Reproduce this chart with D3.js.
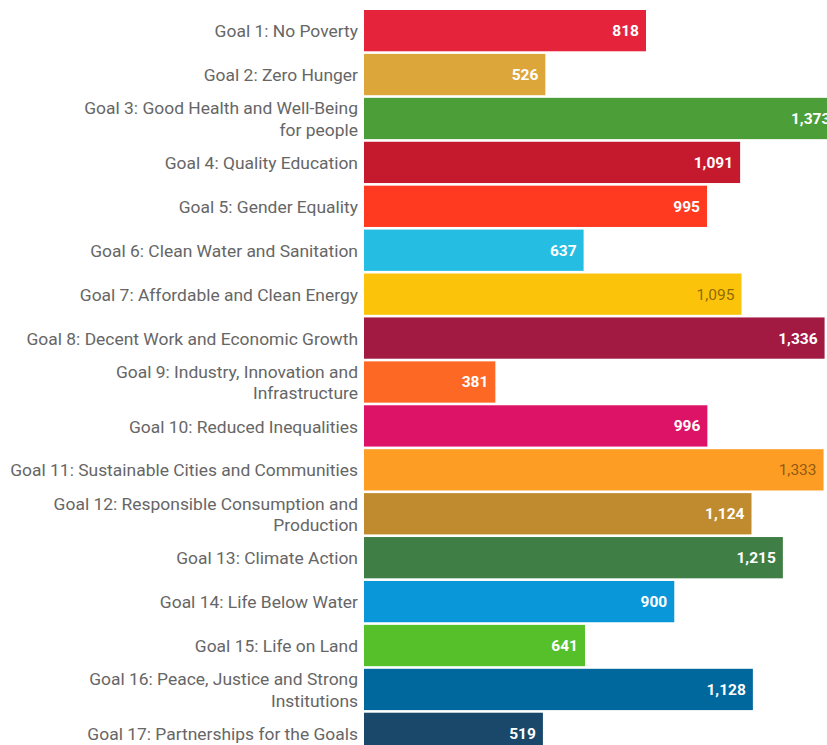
<!DOCTYPE html>
<html>
<head>
<meta charset="utf-8">
<script src="https://cdn.jsdelivr.net/npm/d3@7"></script>
<style>
  html, body { margin: 0; padding: 0; background: #fff; }
  svg { display: block; }
</style>
</head>
<body>
<svg id="chart" width="827" height="745"></svg>
<script>
const categories = [
  ["Goal 1: No Poverty"],
  ["Goal 2: Zero Hunger"],
  ["Goal 3: Good Health and Well-Being", "for people"],
  ["Goal 4: Quality Education"],
  ["Goal 5: Gender Equality"],
  ["Goal 6: Clean Water and Sanitation"],
  ["Goal 7: Affordable and Clean Energy"],
  ["Goal 8: Decent Work and Economic Growth"],
  ["Goal 9: Industry, Innovation and", "Infrastructure"],
  ["Goal 10: Reduced Inequalities"],
  ["Goal 11: Sustainable Cities and Communities"],
  ["Goal 12: Responsible Consumption and", "Production"],
  ["Goal 13: Climate Action"],
  ["Goal 14: Life Below Water"],
  ["Goal 15: Life on Land"],
  ["Goal 16: Peace, Justice and Strong", "Institutions"],
  ["Goal 17: Partnerships for the Goals"]
];
const values = [818, 526, 1373, 1091, 995, 637, 1095, 1336, 381, 996, 1333, 1124, 1215, 900, 641, 1128, 519];
const colors = ["#E5243B", "#DDA63A", "#4C9F38", "#C5192D", "#FF3A21", "#26BDE2", "#FCC30B", "#A21942",
                "#FD6925", "#DD1367", "#FD9D24", "#BF8B2E", "#3F7E44", "#0A97D9", "#56C02B", "#00689D", "#19486A"];
const darkLabel = [false, false, false, false, false, false, true, false, false, false, true, false, false, false, false, false, false];

const svg = d3.select("#chart");
const x0 = 364;
const x = d3.scaleLinear().domain([0, 818]).range([x0, 646]);
const idx = d3.range(values.length);
const y = d3.scaleBand().domain(idx).range([10, 754]).paddingInner(0.06).paddingOuter(0);

const g = svg.append("g");

g.selectAll("rect.bar").data(idx).join("rect")
  .attr("class", "bar")
  .attr("x", x0)
  .attr("y", i => y(i))
  .attr("width", i => x(values[i]) - x0)
  .attr("height", y.bandwidth())
  .attr("fill", i => colors[i]);

const fmt = d3.format(",");
g.selectAll("text.val").data(idx).join("text")
  .attr("class", "val")
  .attr("x", i => x(values[i]) - 7)
  .attr("y", i => y(i) + y.bandwidth() / 2)
  .attr("dy", "0.35em")
  .attr("text-anchor", "end")
  .style("font-family", "Roboto, sans-serif")
  .style("font-size", "15.5px")
  .style("font-weight", i => darkLabel[i] ? "400" : "700")
  .style("fill", i => darkLabel[i] ? "rgba(70,45,0,0.62)" : "#fff")
  .text(i => fmt(values[i]));

const lg = g.append("g").attr("transform", "translate(358,0) scale(1.09,1)");
const labels = lg.selectAll("text.lab").data(idx).join("text")
  .attr("class", "lab")
  .attr("text-anchor", "end")
  .style("font-family", "Roboto, sans-serif")
  .style("font-size", "16px")
  .style("fill", "#666");

labels.each(function(i) {
  const lines = categories[i];
  const cy = y(i) + y.bandwidth() / 2 + 1;
  const lh = 21.5;
  const start = cy - (lines.length - 1) * lh / 2;
  d3.select(this).selectAll("tspan").data(lines).join("tspan")
    .attr("x", 0)
    .attr("y", (d, k) => start + k * lh)
    .attr("dy", "0.35em")
    .text(d => d);
});
</script>
</body>
</html>
